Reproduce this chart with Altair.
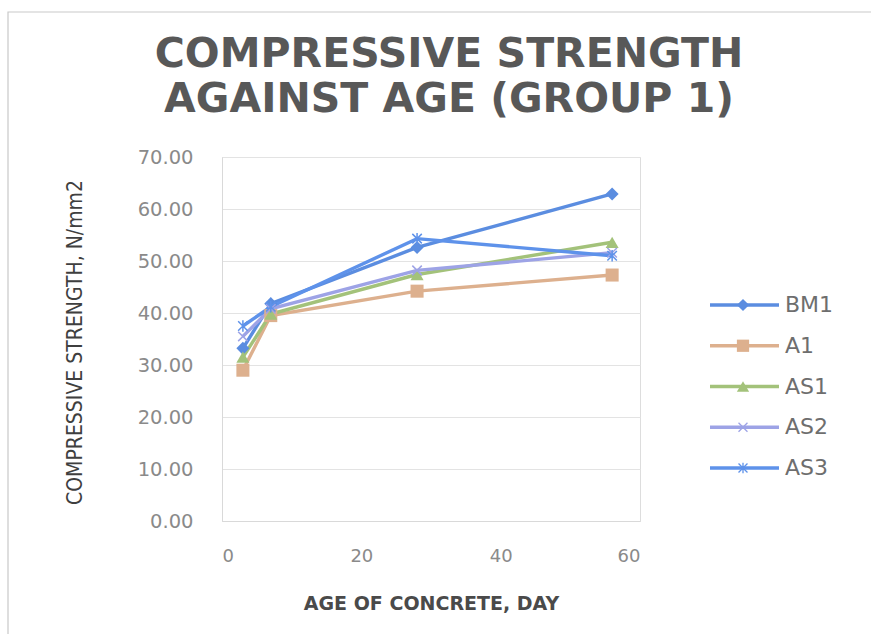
import altair as alt
import pandas as pd

# Age of concrete (days) and compressive strength (N/mm2) per mix
days = [3, 7, 28, 56]
series_names = ["BM1", "A1", "AS1", "AS2", "AS3"]
bm1 = [33.2, 41.8, 52.6, 62.9]
a1 = [29.0, 39.5, 44.2, 47.3]
as1 = [31.5, 39.8, 47.4, 53.6]
as2 = [35.5, 40.8, 48.2, 51.6]
as3 = [37.5, 41.2, 54.3, 51.0]

title_lines = ["COMPRESSIVE STRENGTH", "AGAINST AGE (GROUP 1)"]

line_colors = ["#5B8DE0", "#DDB08E", "#A3C27A", "#9DA3E6", "#5E92EA"]
marker_colors = ["#5B8DE0", "#D6826C", "#A3C27A", "#9DA3E6", "#5E92EA"]

X_MARK = "M-1,-1L1,1M-1,1L1,-1"
STAR_MARK = "M-1,-1L1,1M-1,1L1,-1M0,-1.2L0,1.2"
shapes = ["diamond", "square", "triangle-up", X_MARK, STAR_MARK]

rows = []
for name, vals in zip(series_names, [bm1, a1, as1, as2, as3]):
    for d, v in zip(days, vals):
        rows.append({"series": name, "day": d, "strength": v})
df = pd.DataFrame(rows)

legend_df = pd.DataFrame({"series": series_names})
title_df = pd.DataFrame({"line": [0, 1], "text": title_lines})

W, H = 418, 364
FONT = "DejaVu Sans"
NARROW = "DejaVu Sans Condensed, Liberation Sans Narrow, Roboto"

color_line = alt.Color("series:N", scale=alt.Scale(domain=series_names, range=line_colors), legend=None)
color_mark = alt.Color("series:N", scale=alt.Scale(domain=series_names, range=marker_colors), legend=None)
stroke_mark = alt.Stroke("series:N", scale=alt.Scale(domain=series_names, range=marker_colors), legend=None)
shape_enc = alt.Shape("series:N", scale=alt.Scale(domain=series_names, range=shapes), legend=None)

x_enc = alt.X(
    "day:Q",
    scale=alt.Scale(domain=[0, 60], nice=False),
    axis=alt.Axis(
        values=[0, 20, 40, 60], title="AGE OF CONCRETE, DAY", grid=False, ticks=False,
        labelPadding=26, labelFontSize=18, labelColor="#8a8a8a", labelFont=FONT,
        titleFont=FONT, titleFontSize=19, titleFontWeight="bold", titleColor="#4a4a4a",
        titleY=82, titleBaseline="middle", domainColor="#d9d9d9",
    ),
)
y_enc = alt.Y(
    "strength:Q",
    scale=alt.Scale(domain=[0, 70], nice=False),
    axis=alt.Axis(
        values=[0, 10, 20, 30, 40, 50, 60, 70], format=".2f",
        title="COMPRESSIVE STRENGTH, N/mm2", ticks=False, labelPadding=29,
        labelFontSize=19.5, labelColor="#8a8a8a", labelFont=FONT,
        gridColor="#e3e3e3", domainColor="#d9d9d9",
        titleFont=NARROW, titleFontSize=21, titleFontWeight="normal",
        titleColor="#3f3f3f", titleX=-147, titleY=185, titleAngle=-90,
        titleAlign="center", titleBaseline="middle",
    ),
)

lines = alt.Chart(df).mark_line(strokeWidth=3.4).encode(
    x=x_enc, y=y_enc, color=color_line, detail="series:N", order="day:Q"
)

filled_pts = alt.Chart(df).transform_filter(
    alt.FieldOneOfPredicate(field="series", oneOf=["BM1", "A1", "AS1"])
).mark_point(filled=True, size=170, opacity=1).encode(
    x="day:Q", y="strength:Q", color=color_mark, shape=shape_enc
)
stroked_pts = alt.Chart(df).transform_filter(
    alt.FieldOneOfPredicate(field="series", oneOf=["AS2", "AS3"])
).mark_point(filled=False, size=90, strokeWidth=1.5, opacity=1).encode(
    x="day:Q", y="strength:Q", stroke=stroke_mark, shape=shape_enc
)

# Hand-built legend to the right of the plot: line sample, marker, label
leg_y = alt.Y("series:N", sort=series_names, axis=None,
              scale=alt.Scale(type="point", domain=series_names, range=[148, 311], padding=0))
leg_lines = alt.Chart(legend_df).mark_rule(strokeWidth=3.4).encode(
    y=leg_y, x=alt.value(488), x2=alt.value(557), color=color_line
)
leg_filled = alt.Chart(legend_df).transform_filter(
    alt.FieldOneOfPredicate(field="series", oneOf=["BM1", "A1", "AS1"])
).mark_point(filled=True, size=150, opacity=1).encode(
    y=leg_y, x=alt.value(521), color=color_mark, shape=shape_enc
)
leg_stroked = alt.Chart(legend_df).transform_filter(
    alt.FieldOneOfPredicate(field="series", oneOf=["AS2", "AS3"])
).mark_point(filled=False, size=80, strokeWidth=1.3, opacity=1).encode(
    y=leg_y, x=alt.value(521), stroke=stroke_mark, shape=shape_enc,
)
leg_text = alt.Chart(legend_df).mark_text(
    align="left", baseline="middle", font=FONT, fontSize=22, color="#6e6e6e"
).encode(y=leg_y, x=alt.value(563), text="series:N")

# Two-line chart title above the plot
title_y = alt.Y("line:Q", axis=None, scale=alt.Scale(domain=[0, 1], range=[-102.5, -57.5]))
title = alt.Chart(title_df).mark_text(
    align="center", baseline="middle", font="DejaVu Sans", fontSize=41,
    fontWeight="bold", color="#585858"
).encode(y=title_y, x=alt.value(227), text="text:N")

# Outer frame of the chart
frame = alt.Chart(alt.Data(values=[{}])).mark_rect(
    fill=None, stroke="#c9c9c9", strokeWidth=1.2
).encode(x=alt.value(-214), x2=alt.value(660), y=alt.value(-145), y2=alt.value(490))

plot = alt.layer(lines, filled_pts, stroked_pts)
legend = alt.layer(leg_lines, leg_filled, leg_stroked, leg_text)

chart = alt.layer(frame, plot, legend, title).resolve_scale(
    y="independent", color="independent", shape="independent", stroke="independent"
).properties(
    width=W,
    height=H,
    autosize=alt.AutoSizeParams(type="none"),
    padding={"left": 222, "top": 157, "right": 231, "bottom": 113},
).configure_view(stroke=None).configure(background="white")

chart.save("out.html", embed_options={"renderer": "svg", "actions": False})
